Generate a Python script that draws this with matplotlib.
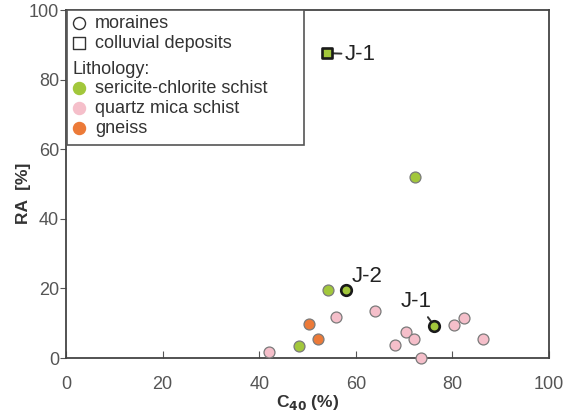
import matplotlib
matplotlib.use("Agg")
import matplotlib.pyplot as plt
from matplotlib.patches import Rectangle

plt.rcParams['font.family'] = ['Liberation Sans', 'DejaVu Sans']

# moraine samples (circles)
seri_x = [72.3, 54.3, 48.3]
seri_y = [52.0, 19.5, 3.5]
seri_bold_x = [58.0, 76.2]
seri_bold_y = [19.5, 9.3]
quartz_x = [64.0, 55.9, 42.1, 70.3, 72.1, 68.2, 73.4, 80.3, 82.5, 86.4]
quartz_y = [13.6, 11.7, 1.6, 7.6, 5.5, 3.7, 0.0, 9.5, 11.6, 5.4]
gneiss_x = [50.3, 52.1]
gneiss_y = [9.7, 5.4]
# colluvial deposit (square)
coll_x = [54.0]
coll_y = [87.6]

labels = ["J-1", "J-2", "J-1"]

GREEN = '#a2c73b'
PINK = '#f5bfca'
ORANGE = '#ec7a38'
EDGE = '#7a7a7a'

fig = plt.figure(figsize=(5.65, 4.11), dpi=100)
ax = fig.add_axes([66/565, 1-358/411, 483/565, 348/411])

ms = 62
ax.scatter(quartz_x, quartz_y, s=ms, c=PINK, edgecolors=EDGE, linewidths=0.9, zorder=3, clip_on=False)
ax.scatter(gneiss_x, gneiss_y, s=ms, c=ORANGE, edgecolors=EDGE, linewidths=0.9, zorder=3, clip_on=False)
ax.scatter(seri_x, seri_y, s=ms, c=GREEN, edgecolors=EDGE, linewidths=0.9, zorder=3, clip_on=False)
ax.scatter(seri_bold_x, seri_bold_y, s=58, c=GREEN, edgecolors='#1a1a1a', linewidths=1.9, zorder=4, clip_on=False)
ax.scatter(coll_x, coll_y, s=58, marker='s', c=GREEN, edgecolors='#1a1a1a', linewidths=1.9, zorder=4)

# annotations
ax.annotate(labels[0], xy=(coll_x[0], coll_y[0]), xytext=(57.6, coll_y[0] - 0.3),
            fontsize=16, color='#222222', va='center', ha='left',
            arrowprops=dict(arrowstyle='-', color='#333333', lw=1.4, shrinkA=0, shrinkB=2.5))
ax.annotate(labels[1], xy=(seri_bold_x[0], seri_bold_y[0]), xytext=(59.2, 23.3),
            fontsize=16, color='#222222', va='center', ha='left',
            arrowprops=dict(arrowstyle='-', color='#333333', lw=1.2, shrinkA=0, shrinkB=1.5))
ax.annotate(labels[2], xy=(seri_bold_x[1], seri_bold_y[1]), xytext=(72.6, 16.2),
            fontsize=16, color='#222222', va='center', ha='center',
            arrowprops=dict(arrowstyle='-', color='#333333', lw=1.4, shrinkA=2, shrinkB=3))

ax.set_xlim(0, 100)
ax.set_ylim(0, 100)
ax.set_xticks([0, 20, 40, 60, 80, 100])
ax.set_yticks([0, 20, 40, 60, 80, 100])
ax.tick_params(axis='x', direction='in', length=5, labelsize=13, labelcolor='#555555', color='#555555', pad=13)
ax.tick_params(axis='y', direction='out', length=4, labelsize=13, labelcolor='#555555', color='#555555', pad=1)
for sp in ax.spines.values():
    sp.set_color('#444444')
    sp.set_linewidth(1.3)

ax.set_xlabel(r'C$_{\mathbf{40}}$ (%)', fontsize=12.5, fontweight='bold', color='#333333', labelpad=0)
ax.set_ylabel('RA  [%]', fontsize=12.5, fontweight='bold', color='#333333')
ax.yaxis.set_label_coords(-0.072, 0.474)

# manual legend box
def axx(px):
    return (px - 66) / 483
def axy(py):
    return (358 - py) / 348

box = Rectangle((axx(67), axy(145)), axx(304) - axx(67), axy(10) - axy(145),
                transform=ax.transAxes, facecolor='white', edgecolor='#555555', lw=1.2, zorder=5)
ax.add_patch(box)
lg_fs = 13
mx = axx(79)
tx = axx(95)
rows = [
    (23, 'o', 'white', '#333333', 'moraines'),
    (43, 's', 'white', '#333333', 'colluvial deposits'),
    (88, 'o', GREEN, GREEN, 'sericite-chlorite schist'),
    (108, 'o', PINK, PINK, 'quartz mica schist'),
    (128, 'o', ORANGE, ORANGE, 'gneiss'),
]
for py, mk, fc, ec, txt in rows:
    ax.scatter([mx], [axy(py)], s=75 if mk == 'o' else 70, marker=mk, c=fc, edgecolors=ec, linewidths=1.0,
               transform=ax.transAxes, zorder=6, clip_on=False)
    ax.text(tx, axy(py), txt, transform=ax.transAxes, fontsize=lg_fs, color='#333333',
            va='center', ha='left', zorder=6)
ax.text(axx(73), axy(69), 'Lithology:', transform=ax.transAxes, fontsize=lg_fs, color='#333333',
        va='center', ha='left', zorder=6)

fig.savefig('out.png', dpi=100)
